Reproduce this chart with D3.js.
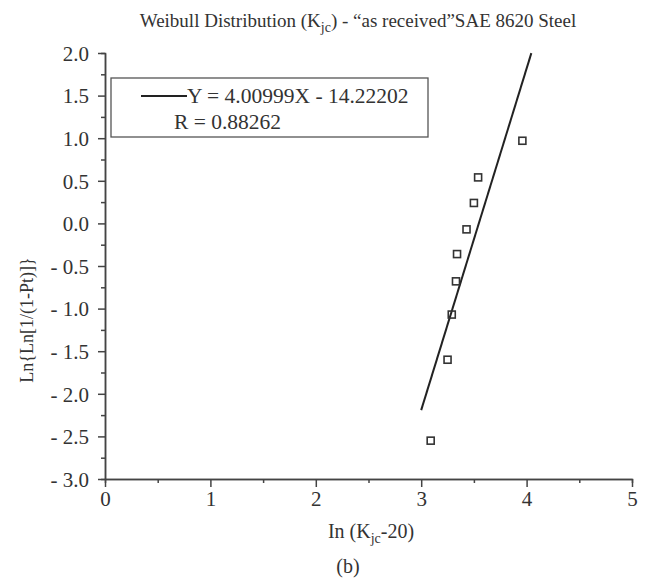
<!DOCTYPE html>
<html>
<head>
<meta charset="utf-8">
<script src="https://cdn.jsdelivr.net/npm/d3@7"></script>
<style>
  body { margin: 0; background: #fff; }
  svg text { font-family: "Liberation Serif", "Times New Roman", serif; fill: #333; }
</style>
</head>
<body>
<div class="canvas"></div>
<script>
// data
const lnK = [3.09, 3.25, 3.29, 3.33, 3.34, 3.43, 3.50, 3.54, 3.96];
const lnLn = [-2.55, -1.60, -1.07, -0.68, -0.36, -0.07, 0.24, 0.54, 0.97];
const slope = 4.00999;
const intercept = -14.22202;
const fitRange = [3.0, 4.045];
const xTicks = [0, 1, 2, 3, 4, 5];
const yTicks = [2.0, 1.5, 1.0, 0.5, 0.0, -0.5, -1.0, -1.5, -2.0, -2.5, -3.0];

const width = 655, height = 582;
const svg = d3.select(".canvas").append("svg")
    .attr("width", width)
    .attr("height", height);

// scales
const x = d3.scaleLinear().domain([0, 5]).range([105, 632]);
const y = d3.scaleLinear().domain([-3, 2]).range([479, 53]);

const fmtY = d => d < 0 ? "- " + d3.format(".1f")(-d) : d3.format(".1f")(d);

//minor ticks
const xMinor = d3.axisBottom(x).tickValues(d3.range(0.5, 5, 1)).tickSize(4).tickFormat("");
const yMinor = d3.axisLeft(y).tickValues(d3.range(-2.75, 2, 0.5)).tickSize(4).tickFormat("");

svg.append("g").attr("transform", `translate(0, ${y(-3)})`).call(xMinor);
svg.append("g").attr("transform", `translate(${x(0)}, 0)`).call(yMinor);

//major axes
const xAxis = d3.axisBottom(x).tickValues(xTicks).tickSize(8).tickSizeOuter(0).tickPadding(4).tickFormat(d3.format("d"));
const yAxis = d3.axisLeft(y).tickValues(yTicks).tickSize(7).tickSizeOuter(0).tickPadding(9).tickFormat(fmtY);

const xAxisGroup = svg.append("g")
    .attr("transform", `translate(0, ${y(-3)})`)
    .call(xAxis);
const yAxisGroup = svg.append("g")
    .attr("transform", `translate(${x(0)}, 0)`)
    .call(yAxis);

svg.selectAll(".domain, .tick line")
    .attr("stroke", "#444")
    .attr("stroke-width", 1.5);
svg.selectAll(".tick text")
    .attr("font-size", 21)
    .attr("font-family", "Liberation Serif, serif")
    .attr("fill", "#333");
yAxisGroup.selectAll(".tick text").attr("dy", "0.35em");

//fit line
svg.append("line")
    .attr("x1", x(fitRange[0]))
    .attr("y1", y(slope * fitRange[0] + intercept))
    .attr("x2", x(fitRange[1]))
    .attr("y2", y(slope * fitRange[1] + intercept))
    .attr("stroke", "#222")
    .attr("stroke-width", 2);

//points
svg.selectAll("rect.pt")
    .data(lnK)
    .enter()
    .append("rect")
    .attr("class", "pt")
    .attr("x", d => x(d) - 3.5)
    .attr("y", (d, i) => y(lnLn[i]) - 3.5)
    .attr("width", 7)
    .attr("height", 7)
    .attr("fill", "none")
    .attr("stroke", "#333")
    .attr("stroke-width", 1.6);

//legend
const legend = svg.append("g");
legend.append("rect")
    .attr("x", 111).attr("y", 78)
    .attr("width", 317).attr("height", 59)
    .attr("fill", "#fff")
    .attr("stroke", "#555")
    .attr("stroke-width", 1.3);
legend.append("line")
    .attr("x1", 141).attr("x2", 187)
    .attr("y1", 96).attr("y2", 96)
    .attr("stroke", "#222")
    .attr("stroke-width", 2);
legend.append("text")
    .attr("x", 187).attr("y", 103)
    .attr("font-size", 21.5)
    .text(`Y = ${slope.toFixed(5)}X - ${Math.abs(intercept).toFixed(5)}`);
legend.append("text")
    .attr("x", 174).attr("y", 129)
    .attr("font-size", 21.5)
    .text("R = 0.88262");

//title
const title = svg.append("text")
    .attr("x", 358).attr("y", 27)
    .attr("text-anchor", "middle")
    .attr("font-size", 19);
title.append("tspan").text("Weibull Distribution (K");
title.append("tspan").attr("font-size", 14).attr("dy", 5).text("jc");
title.append("tspan").attr("dy", -5).text(") - \u201Cas received\u201DSAE 8620 Steel");

//axis labels
const xLabel = svg.append("text")
    .attr("x", 371).attr("y", 538)
    .attr("text-anchor", "middle")
    .attr("font-size", 20);
xLabel.append("tspan").text("In (K");
xLabel.append("tspan").attr("font-size", 14).attr("dy", 5).text("jc");
xLabel.append("tspan").attr("dy", -5).text("-20)");

svg.append("text")
    .attr("transform", "translate(33, 320) rotate(-90)")
    .attr("text-anchor", "middle")
    .attr("font-size", 18)
    .text("Ln{Ln[1/(1-Pt)]}");

svg.append("text")
    .attr("x", 348).attr("y", 573)
    .attr("text-anchor", "middle")
    .attr("font-size", 20)
    .text("(b)");
</script>
</body>
</html>
